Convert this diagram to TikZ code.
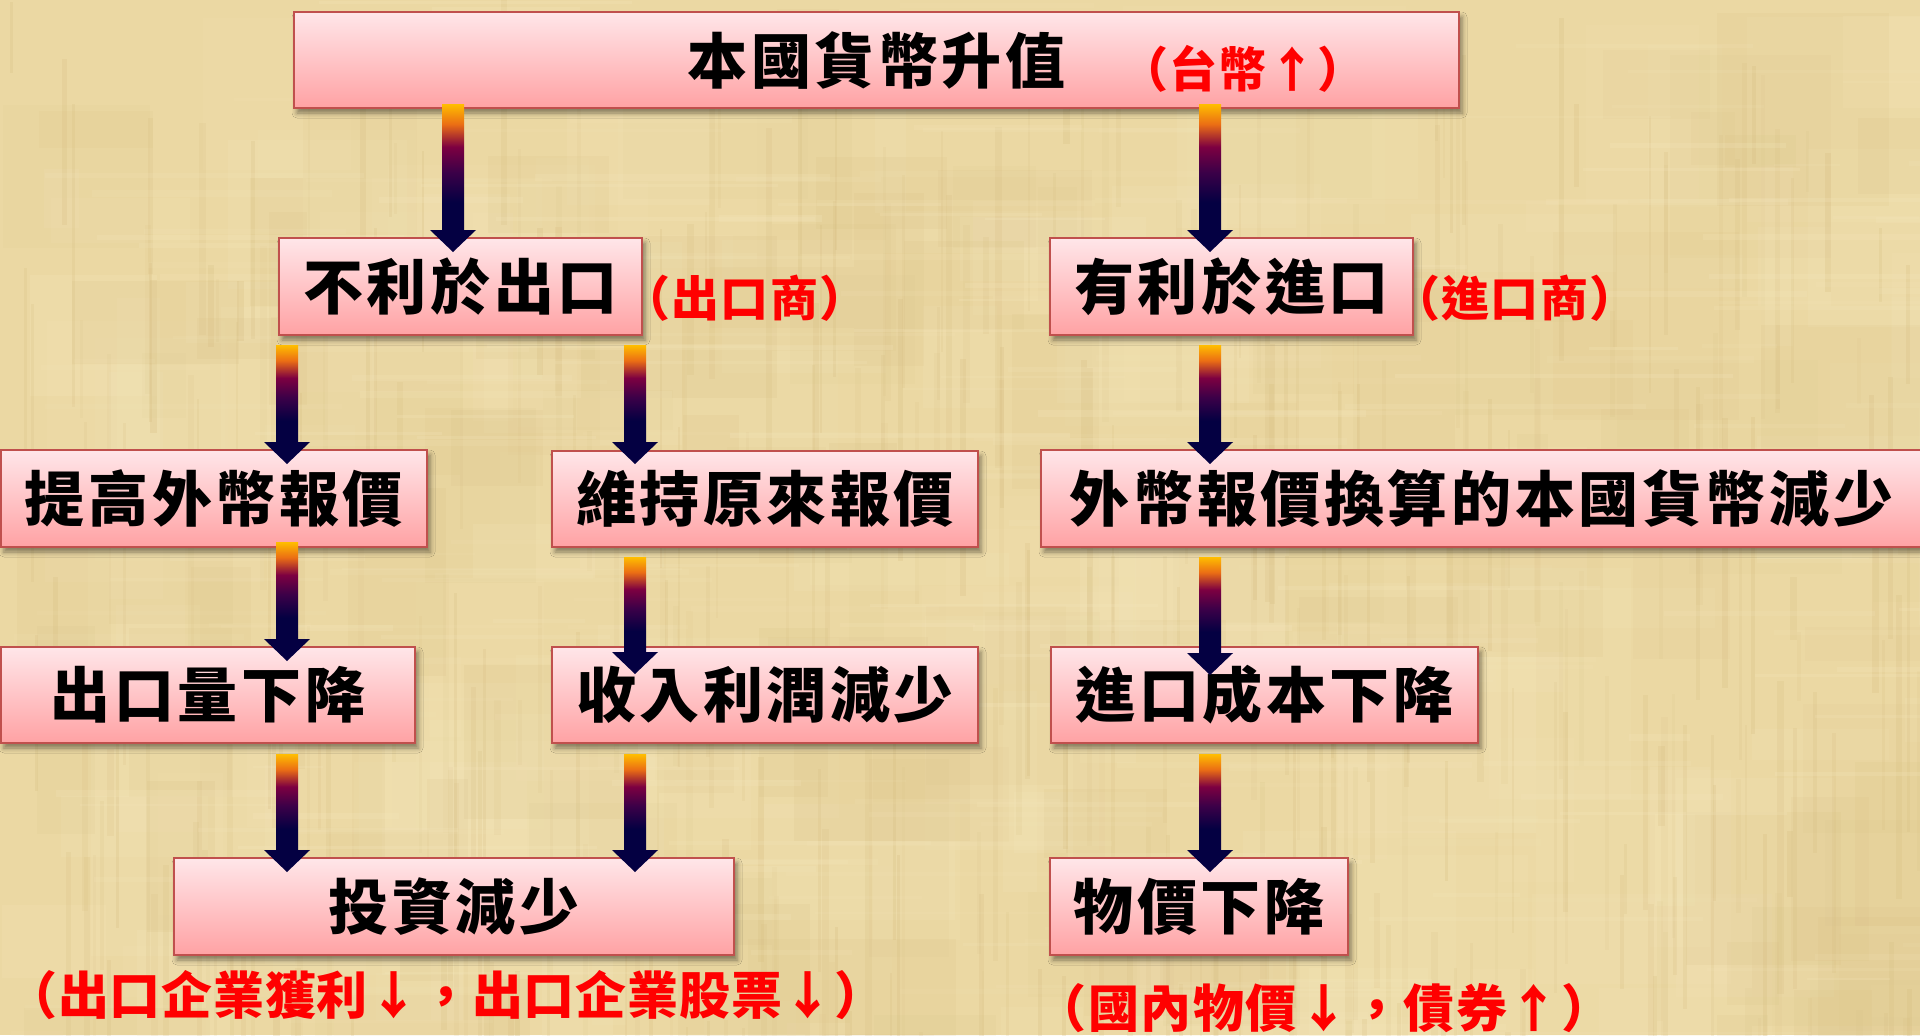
\documentclass[tikz,border=0pt]{standalone}
\usepackage{fontspec}
\usetikzlibrary{calc,shadows.blur}
\newfontfamily\cjk{Noto Sans CJK TC}
\newfontfamily\cjkbox{Noto Sans CJK TC}[LetterSpace=6]
\newfontfamily\cjkredA{Noto Sans CJK TC}[LetterSpace=1.5]
\newfontfamily\cjkredB{Noto Sans CJK TC}[LetterSpace=3]
\definecolor{paper}{RGB}{235,216,163}
\definecolor{paperlight}{RGB}{246,232,190}
\definecolor{paperdark}{RGB}{212,186,125}
\definecolor{boxtop}{RGB}{255,230,233}
\definecolor{boxbot}{RGB}{255,162,164}
\definecolor{boxborder}{RGB}{192,80,77}
\definecolor{navyA}{RGB}{4,0,66}
\definecolor{purpA}{RGB}{60,0,72}
\definecolor{maroonA}{RGB}{125,0,65}
\definecolor{orangeA}{RGB}{235,110,20}
\definecolor{goldA}{RGB}{255,190,0}
\pgfdeclareverticalshading{arrowshade}{100bp}{color(0bp)=(navyA); color(25bp)=(navyA); color(36bp)=(navyA); color(48bp)=(purpA); color(58bp)=(maroonA); color(67bp)=(orangeA); color(75bp)=(goldA); color(100bp)=(goldA)}
\newcommand\flowarrow[5]{%
  \path let \p1=(#1.south), \p2=(#2.north), \p3=(#3) in
    coordinate (tmpA) at ({\x3-5.5pt},{\y1-(#4)*0.5pt})
    coordinate (tmpB) at ({\x3+5.5pt},{\y2-(#5)*0.5pt+11pt})
    coordinate (tmpT) at ({\x3},{\y2-(#5)*0.5pt});
  \shade[shading=arrowshade] (tmpA) rectangle (tmpB);
  \fill[arrowheadfill] (tmpB -| tmpT) ++(-11.5pt,0) -- ++(23pt,0) -- (tmpT) -- cycle;
}
\begin{document}
\begin{tikzpicture}[x=0.5pt,y=-0.5pt,
  box/.style={rectangle, draw=boxborder, line width=1pt, top color=boxtop, bottom color=boxbot,
    inner sep=0pt, font=\cjkbox\bfseries\fontsize{30pt}{32pt}\selectfont,
    blur shadow={shadow xshift=1.5pt, shadow yshift=-2.5pt, shadow blur radius=2.5pt, shadow opacity=45}},
  note/.style={text=red, inner sep=0pt},
  smallnote/.style={note, font=\cjkredB\bfseries\fontsize{24pt}{26pt}\selectfont},
  arrowheadfill/.style={fill=navyA}]
\useasboundingbox (0,0) rectangle (1920,1035);
% background parchment
\begin{scope}
\clip (0,0) rectangle (1920,1035);
\fill[paper] (0,0) rectangle (1920,1035);
\pgfmathsetseed{11}
\foreach \i in {1,...,140}{
  \pgfmathsetmacro\rx{rnd*1920}
  \pgfmathsetmacro\ry{rnd*1035}
  \pgfmathsetmacro\rw{30+rnd*220}
  \pgfmathsetmacro\rh{30+rnd*220}
  \pgfmathsetmacro\op{0.08+rnd*0.12}
  \fill[paperlight, opacity=\op] (\rx,\ry) rectangle ++(\rw,\rh);
}
\foreach \i in {1,...,110}{
  \pgfmathsetmacro\rx{rnd*1920}
  \pgfmathsetmacro\ry{rnd*1035}
  \pgfmathsetmacro\rw{30+rnd*180}
  \pgfmathsetmacro\rh{30+rnd*180}
  \pgfmathsetmacro\op{0.05+rnd*0.09}
  \fill[paperdark, opacity=\op] (\rx,\ry) rectangle ++(\rw,\rh);
}
\foreach \i in {1,...,360}{
  \pgfmathsetmacro\rx{rnd*1920}
  \pgfmathsetmacro\ry{rnd*1035}
  \pgfmathsetmacro\rw{2+rnd*5}
  \pgfmathsetmacro\rh{60+rnd*300}
  \pgfmathsetmacro\op{0.08+rnd*0.16}
  \fill[paperdark, opacity=\op] (\rx,\ry) rectangle ++(\rw,\rh);
}
\foreach \i in {1,...,260}{
  \pgfmathsetmacro\rx{rnd*1920}
  \pgfmathsetmacro\ry{rnd*1035}
  \pgfmathsetmacro\rw{60+rnd*300}
  \pgfmathsetmacro\rh{2+rnd*5}
  \pgfmathsetmacro\op{0.08+rnd*0.15}
  \fill[paperlight, opacity=\op] (\rx,\ry) rectangle ++(\rw,\rh);
}
\end{scope}
% columns for arrows
\coordinate (cA) at (453,0);
\coordinate (cL) at (287,0);
\coordinate (cM) at (635,0);
\coordinate (cR) at (1210,0);
% boxes
\node[box, minimum width=582.5pt, minimum height=48pt] (top) at (876.5,60) {本國貨幣升值};
\node[box, minimum width=181.5pt, minimum height=48.5pt] (bu) at (460.5,286.5) {不利於出口};
\node[box, minimum width=181.5pt, minimum height=48.5pt] (yo) at (1231.5,286.5) {有利於進口};
\node[box, minimum width=213pt, minimum height=48.5pt] (tg) at (214,498.5) {提高外幣報價};
\node[box, minimum width=213pt, minimum height=48pt] (wc) at (765,499) {維持原來報價};
\node[box, minimum width=440.5pt, minimum height=48.5pt] (hs) at (1481.5,498.5) {外幣報價換算的本國貨幣減少};
\node[box, minimum width=207pt, minimum height=48pt] (ck) at (208,695) {出口量下降};
\node[box, minimum width=213pt, minimum height=48pt] (sr) at (765,695) {收入利潤減少};
\node[box, minimum width=213.5pt, minimum height=48pt] (jk) at (1264.5,695) {進口成本下降};
\node[box, minimum width=280pt, minimum height=48.5pt] (tz) at (454,906.5) {投資減少};
\node[box, minimum width=149pt, minimum height=48.5pt] (wj) at (1199,906.5) {物價下降};
% red notes
\node[smallnote] (nt) at (1243,69) {（台幣↑）};
\node[smallnote] (nbu) at (745,298) {（出口商）};
\node[smallnote] (nyo) at (1515,298) {（進口商）};
\node[note, font=\cjkredA\bfseries\fontsize{25.5pt}{27pt}\selectfont] (nb1) at (446,995) {（出口企業獲利↓，出口企業股票↓）};
\node[note, font=\cjkredB\bfseries\fontsize{25.5pt}{27pt}\selectfont] (nb2) at (1324,1008) {（國內物價↓，債券↑）};
% arrows
\flowarrow{top}{bu}{cA}{-5}{15}
\flowarrow{top}{yo}{cR}{-5}{15}
\flowarrow{bu}{tg}{cL}{9}{15}
\flowarrow{bu}{wc}{cM}{9}{14}
\flowarrow{yo}{hs}{cR}{9}{15}
\flowarrow{tg}{ck}{cL}{-6}{15}
\flowarrow{wc}{sr}{cM}{9}{28}
\flowarrow{hs}{jk}{cR}{9}{29}
\flowarrow{ck}{tz}{cL}{10}{15}
\flowarrow{sr}{tz}{cM}{10}{15}
\flowarrow{jk}{wj}{cR}{10}{15}
\end{tikzpicture}
\end{document}
